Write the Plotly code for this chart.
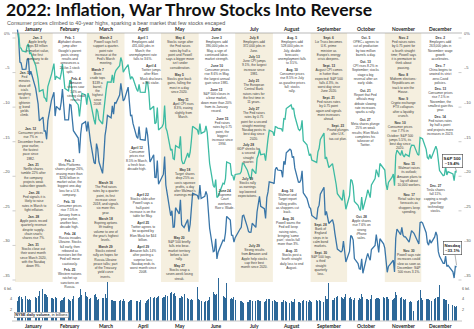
import textwrap
import pandas as pd
import plotly.graph_objects as go

W, H = 474, 329

# ---------------- data ----------------
months = ["January", "February", "March", "April", "May", "June", "July",
          "August", "September", "October", "November", "December"]
market_holidays = ["2022-01-17", "2022-02-21", "2022-04-15", "2022-05-30", "2022-06-20",
                   "2022-07-04", "2022-09-05", "2022-11-24", "2022-12-26"]

sp500_prev_close = 4766.18
nasdaq_prev_close = 15644.97

sp500_close = [
    # Jan
    4796.56, 4793.54, 4700.58, 4696.05, 4677.03, 4670.29, 4713.07, 4726.35, 4659.03, 4662.85,
    4577.11, 4532.76, 4482.73, 4397.94, 4410.13, 4356.45, 4349.93, 4326.51, 4431.85, 4515.55,
    # Feb
    4546.54, 4589.38, 4477.44, 4500.53, 4483.87, 4521.54, 4587.18, 4504.08, 4418.64, 4401.67,
    4471.07, 4475.01, 4380.26, 4348.87, 4304.76, 4225.50, 4288.70, 4384.65, 4373.94,
    # Mar
    4306.26, 4386.54, 4363.49, 4328.87, 4201.09, 4170.70, 4277.88, 4259.52, 4204.31, 4173.11,
    4262.45, 4357.86, 4411.67, 4463.12, 4461.18, 4511.61, 4456.24, 4520.16, 4543.06, 4575.52,
    4631.60, 4602.45, 4530.41,
    # Apr
    4545.86, 4582.64, 4525.12, 4481.15, 4500.21, 4488.28, 4412.53, 4397.45, 4446.59, 4392.59,
    4391.69, 4462.21, 4459.45, 4393.66, 4271.78, 4296.12, 4175.20, 4183.96, 4287.50, 4131.93,
    # May
    4155.38, 4175.48, 4300.17, 4146.87, 4123.34, 3991.24, 4001.05, 3935.18, 3930.08, 4023.89,
    4008.01, 4088.85, 3923.68, 3900.79, 3901.36, 3973.75, 3941.48, 3978.73, 4057.84, 4158.24,
    4132.15,
    # Jun
    4101.23, 4176.82, 4108.54, 4121.43, 4160.68, 4115.77, 4017.82, 3900.86, 3749.63, 3735.48,
    3789.99, 3666.77, 3674.84, 3764.79, 3759.89, 3795.73, 3911.74, 3900.11, 3821.55, 3818.83,
    3785.38,
    # Jul
    3825.33, 3831.39, 3845.08, 3902.62, 3899.38, 3854.43, 3818.80, 3801.78, 3790.38, 3863.16,
    3830.85, 3936.69, 3959.90, 3998.95, 3961.63, 3966.84, 3921.05, 4023.61, 4072.43, 4130.29,
    # Aug
    4118.63, 4091.19, 4155.17, 4151.94, 4145.19, 4140.06, 4122.47, 4210.24, 4207.27, 4280.15,
    4297.14, 4305.20, 4274.04, 4283.74, 4228.48, 4137.99, 4128.73, 4140.77, 4199.12, 4057.66,
    4030.61, 3986.16, 3955.00,
    # Sep
    3966.85, 3924.26, 3908.19, 3979.87, 4006.18, 4067.36, 4110.41, 3932.69, 3946.01, 3901.35,
    3873.33, 3899.89, 3855.93, 3789.93, 3757.99, 3693.23, 3655.04, 3647.29, 3719.04, 3640.47,
    3585.62,
    # Oct
    3678.43, 3790.93, 3783.28, 3744.52, 3639.66, 3612.39, 3588.84, 3577.03, 3669.91, 3583.07,
    3677.95, 3719.98, 3695.16, 3665.78, 3752.75, 3797.34, 3859.11, 3830.60, 3807.30, 3901.06,
    3871.98,
    # Nov
    3856.10, 3759.69, 3719.89, 3770.55, 3806.80, 3828.11, 3748.57, 3956.37, 3992.93, 3957.25,
    3991.73, 3958.79, 3946.56, 3965.34, 3949.94, 4003.58, 4027.26, 4026.12, 3963.94, 3957.63,
    4080.11,
    # Dec
    4076.57, 4071.70, 3998.84, 3941.26, 3933.92, 3963.51, 3934.38, 3990.56, 4019.65, 3995.32,
    3895.75, 3852.36, 3817.66, 3821.62, 3878.44, 3822.39, 3844.82, 3829.25, 3783.22, 3849.28,
    3839.50,
]

nasdaq_close = [
    # Jan
    15832.80, 15622.72, 15100.17, 15080.86, 14935.90, 14942.83, 15153.45, 15188.39, 14806.81, 14893.75,
    14506.90, 14340.26, 14154.02, 13768.92, 13855.13, 13539.29, 13542.12, 13352.78, 13770.57, 14239.88,
    # Feb
    14346.00, 14417.55, 13878.82, 14098.01, 14015.67, 14194.45, 14490.37, 14185.64, 13791.15, 13790.92,
    14139.76, 14124.09, 13716.72, 13548.07, 13381.52, 13037.49, 13473.59, 13694.62, 13751.40,
    # Mar
    13532.46, 13752.02, 13537.94, 13313.44, 12830.96, 12795.55, 13255.55, 13129.96, 12843.81, 12581.22,
    12948.62, 13436.55, 13614.78, 13893.84, 13838.46, 14108.82, 13922.60, 14191.84, 14169.30, 14354.90,
    14619.64, 14442.27, 14220.52,
    # Apr
    14261.50, 14532.55, 14204.17, 13888.82, 13897.30, 13711.00, 13411.96, 13371.57, 13643.59, 13351.08,
    13332.36, 13619.66, 13453.07, 13174.65, 12839.29, 13004.85, 12490.74, 12488.93, 12871.53, 12334.64,
    # May
    12536.02, 12563.76, 12964.86, 12317.69, 12144.66, 11623.25, 11737.67, 11364.24, 11370.96, 11805.00,
    11662.79, 11984.52, 11418.15, 11388.50, 11354.62, 11535.27, 11264.45, 11434.74, 11740.65, 12131.13,
    12081.39,
    # Jun
    11994.46, 12316.90, 12012.73, 12061.37, 12175.23, 12086.27, 11754.23, 11340.02, 10809.23, 10828.35,
    11099.15, 10646.10, 10798.35, 11069.30, 11053.08, 11232.19, 11607.62, 11524.55, 11181.54, 11177.89,
    11028.74,
    # Jul
    11127.85, 11322.24, 11361.85, 11621.35, 11635.31, 11372.60, 11264.73, 11247.58, 11251.19, 11452.42,
    11360.05, 11713.15, 11897.65, 12059.61, 11834.11, 11782.67, 11562.58, 12032.42, 12162.59, 12390.69,
    # Aug
    12368.98, 12348.76, 12668.16, 12720.58, 12657.55, 12644.46, 12493.93, 12854.80, 12779.91, 13047.19,
    13128.05, 13102.55, 12938.12, 12965.34, 12705.22, 12381.57, 12381.30, 12431.53, 12639.27, 12141.71,
    12017.67, 11883.14, 11816.20,
    # Sep
    11785.13, 11630.86, 11544.91, 11791.90, 11862.13, 12112.31, 12266.41, 11633.57, 11719.68, 11552.36,
    11448.40, 11535.02, 11425.05, 11220.19, 11066.81, 10867.93, 10802.92, 10829.50, 11051.64, 10737.51,
    10575.62,
    # Oct
    10815.43, 11176.41, 11148.64, 11073.31, 10652.40, 10542.10, 10426.19, 10417.10, 10649.15, 10321.39,
    10675.80, 10772.40, 10680.51, 10614.84, 10859.72, 10952.61, 11199.12, 10970.99, 10792.68, 11102.45,
    10988.15,
    # Nov
    10890.85, 10524.80, 10342.94, 10475.25, 10564.52, 10616.20, 10353.17, 11114.15, 11323.33, 11196.22,
    11358.41, 11183.66, 11144.96, 11146.06, 11024.51, 11174.41, 11285.32, 11226.36, 11049.50, 10983.78,
    11468.00,
    # Dec
    11482.45, 11461.50, 11239.94, 11014.89, 10958.55, 11082.00, 11004.62, 11143.74, 11256.81, 11170.89,
    10810.53, 10705.41, 10546.03, 10547.11, 10709.37, 10476.12, 10497.86, 10353.23, 10213.29, 10478.09,
    10466.48,
]

nyse_volume_bil = [
    # Jan
    3.6, 4.5, 4.6, 4.4, 4.1, 4.6, 4.0, 3.9, 4.0, 3.9, 4.4, 4.3, 4.6, 5.6, 6.0, 4.9, 5.0, 4.8, 4.5, 4.3,
    # Feb
    4.3, 4.0, 4.4, 4.2, 3.7, 3.8, 3.9, 4.3, 4.4, 4.0, 3.8, 3.7, 4.1, 4.6, 4.2, 4.5, 6.0, 4.8, 5.3,
    # Mar
    4.6, 4.4, 4.0, 4.3, 4.8, 4.9, 4.5, 3.9, 4.0, 4.2, 4.3, 4.9, 4.2, 7.3, 3.9, 3.8, 3.7, 3.6, 3.7, 3.6,
    3.9, 3.7, 4.0,
    # Apr
    3.6, 3.5, 3.7, 3.9, 3.8, 3.5, 3.6, 3.7, 3.4, 3.8, 3.3, 3.7, 3.8, 4.0, 4.4, 4.2, 4.4, 4.3, 4.4, 4.6,
    # May
    4.3, 4.4, 4.5, 4.8, 4.6, 5.2, 5.3, 5.0, 5.1, 4.6, 4.2, 4.3, 4.6, 4.5, 5.0, 4.2, 4.1, 3.9, 4.0, 3.8,
    6.2,
    # Jun
    4.0, 3.8, 3.6, 3.5, 3.6, 3.7, 3.8, 4.4, 5.4, 5.0, 4.8, 5.0, 8.0, 4.6, 4.5, 4.3, 7.1, 4.0, 4.2, 4.0,
    4.4,
    # Jul
    3.9, 3.7, 3.6, 3.5, 3.2, 3.4, 3.5, 3.8, 3.9, 3.7, 3.6, 3.9, 3.8, 3.7, 3.6, 3.5, 3.6, 4.0, 4.1, 4.1,
    # Aug
    3.6, 3.8, 3.7, 3.5, 3.4, 3.5, 3.4, 3.8, 3.7, 3.4, 3.3, 3.6, 3.5, 3.5, 4.1, 3.5, 3.4, 3.3, 3.6, 3.8,
    3.6, 3.5, 3.9,
    # Sep
    3.6, 3.5, 3.9, 3.7, 3.8, 3.6, 3.5, 4.6, 4.0, 4.1, 7.0, 3.9, 3.8, 4.2, 4.4, 4.6, 4.5, 4.3, 4.1, 4.4,
    4.9,
    # Oct
    4.3, 4.4, 4.0, 3.9, 4.2, 3.8, 4.2, 4.0, 4.9, 4.4, 4.1, 4.0, 3.9, 4.1, 4.7, 4.1, 4.2, 4.3, 4.2, 4.0,
    4.4,
    # Nov
    4.3, 4.4, 4.5, 4.1, 3.8, 4.0, 4.3, 5.3, 4.8, 4.2, 4.4, 4.1, 3.9, 4.1, 3.5, 3.6, 3.4, 1.8, 3.7, 3.8,
    5.8,
    # Dec
    4.3, 3.9, 4.0, 4.1, 4.0, 3.8, 3.6, 4.0, 4.2, 4.4, 4.5, 6.7, 4.1, 4.0, 3.9, 3.8, 3.1, 2.9, 2.7, 2.6,
    2.7,
]

pct_ticks = [0, -5, -10, -15, -20, -25, -30, -35]
pct_tick_text = ["0%", "–5", "–10", "–15", "–20", "–25", "–30", "–35"]
vol_ticks = [2, 4, 6]
vol_tick_text = ["2", "4", "6 bil."]

title_text = "2022: Inflation, War Throw Stocks Into Reverse"
subtitle_text = "Consumer prices climbed to 40-year highs, sparking a bear market that few stocks escaped"

# (month, top px, x offset px, wrap chars, date, text)
notes = [
    (1, 35, 4, 16, "Jan. 3", "Apple briefly tops $3 trillion in market value, the first company to do so."),
    (1, 70, -9, 8, "Jan. 5", "Fed minutes show officials weighing faster tightening; bond yields climb."),
    (1, 126, -3, 15, "Jan. 12", "Consumer prices rise 7% in December from a year earlier, the fastest pace since 1982."),
    (1, 160, 0, 18, "Jan. 21", "Netflix shares tumble 22% after the company projects weak subscriber growth."),
    (1, 188, 0, 18, "Jan. 26", "Fed signals it is likely to raise rates in March to fight inflation."),
    (1, 212, 0, 18, "Jan. 28", "Apple posts record quarterly revenue despite supply-chain snarls; shares rise 7%."),
    (1, 240, 0, 18, "Jan. 31", "Stocks close out their worst month since March 2020, with the Nasdaq down 9%."),
    (2, 35, 0, 18, "Feb. 1", "Alphabet shares jump after Google's parent posts strong results and announces a 20-for-1 stock split."),
    (2, 68, 6, 12, "Feb. 4", "Amazon shares soar 14% on strong cloud results."),
    (2, 158, 0, 18, "Feb. 3", "Meta Platforms shares plunge 26%, erasing more than $230 billion in market value, the biggest one-day loss for a U.S. company."),
    (2, 199, 0, 18, "Feb. 10", "Consumer prices rise 7.5% in January from a year earlier, another four-decade high."),
    (2, 226, 0, 18, "Feb. 24", "Russia invades Ukraine. Stocks fall early, then rebound as investors bet the Fed will move cautiously."),
    (2, 259, 0, 18, "Feb. 25", "Western nations ratchet up sanctions on Russia."),
    (3, 35, 0, 18, "March 2", "Powell says he'll support a quarter-point rate increase at the Fed's March meeting."),
    (3, 65, -8, 10, "March 7", "Brent crude tops $139 a barrel, the highest since 2008."),
    (3, 180, 0, 18, "March 16", "The Fed raises rates by a quarter point, its first increase since 2018, and signals six more this year."),
    (3, 213, 0, 18, "March 18", "Expiring options lift trading volume to one of the year's highest levels."),
    (3, 238, 0, 18, "March 29", "Stocks extend rally on hopes for Russia-Ukraine peace talks; part of the Treasury yield curve inverts."),
    (4, 35, 0, 18, "April 1", "Employers add 431,000 jobs in March; the unemployment rate falls to 3.6%."),
    (4, 63, 8, 14, "April 4", "Twitter jumps after Elon Musk discloses a 9% stake."),
    (4, 145, -6, 14, "April 12", "Consumer prices rise 8.5% in March, a fresh four-decade high."),
    (4, 192, 0, 18, "April 22", "Stocks slide after Powell says a half-point increase is on the table for May."),
    (4, 220, 0, 18, "April 25", "Twitter agrees to be acquired by Elon Musk for $44 billion."),
    (4, 244, 0, 18, "April 29", "Amazon falls 14% after posting a surprise loss; Nasdaq ends its worst month since 2008."),
    (5, 35, 0, 18, "May 4", "Stocks surge after the Fed raises rates by half a point and Powell says a bigger move isn't under consideration."),
    (5, 72, 0, 18, "May 5", "Stocks give back gains, falling the most in a day since 2020."),
    (5, 97, 4, 16, "May 11", "April CPI rises 8.3%, easing slightly from March."),
    (5, 167, 5, 16, "May 18", "Target shares drop 25% as costs squeeze profits, a day after Walmart's earnings miss."),
    (5, 235, 0, 18, "May 20", "S&P 500 briefly falls into bear-market territory before a late rally."),
    (5, 260, 0, 18, "May 27", "Stocks snap a seven-week losing streak."),
    (6, 35, 0, 18, "June 3", "Employers add 390,000 jobs in May, a sign of continued labor-market strength."),
    (6, 63, 0, 18, "June 10", "Consumer prices rise 8.6% in May, the largest annual gain since 1981."),
    (6, 87, 0, 18, "June 13", "S&P 500 closes in a bear market, down more than 20% from its January record."),
    (6, 116, 6, 14, "June 15", "Fed raises rates by 0.75 point, the biggest increase since 1994."),
    (6, 188, 8, 12, "June 24", "Supreme Court overturns Roe v. Wade."),
    (7, 35, 0, 18, "July 8", "Employers add 372,000 jobs in June."),
    (7, 50, 0, 18, "July 13", "June CPI jumps 9.1%, the largest increase since 1981."),
    (7, 70, 0, 18, "July 21", "The European Central Bank raises rates for the first time in 11 years."),
    (7, 95, 0, 18, "July 27", "The Fed raises rates by 0.75 point for a second straight meeting; Nasdaq posts its best day since 2020."),
    (7, 131, -5, 16, "July 28", "GDP shrinks for a second straight quarter."),
    (7, 176, -7, 14, "July 19", "Stocks rally as earnings top lowered expectations."),
    (7, 243, 0, 18, "July 29", "Strong results from Amazon and Apple help stocks cap their best month since 2020."),
    (8, 35, 0, 18, "Aug. 5", "Employers add 528,000 jobs in July, double forecasts; unemployment falls to 3.5%."),
    (8, 64, 0, 18, "Aug. 10", "Consumer prices rise 8.5% in July as gasoline prices fall; stocks rally."),
    (8, 188, -4, 16, "Aug. 16", "Walmart and Target report falling profits as shoppers cut back."),
    (8, 213, -3, 18, "Aug. 26", "Powell warns the Fed will keep raising rates, bringing 'some pain'; stocks fall more than 3%."),
    (8, 246, 0, 18, "Aug. 31", "Stocks post a fourth straight daily loss to end August."),
    (9, 35, 0, 18, "Sept. 6", "Liz Truss becomes U.K. prime minister as Europe's energy crisis deepens."),
    (9, 59, 0, 18, "Sept. 13", "August CPI comes in hotter than expected; S&P 500 falls 4.3%, its worst day since June 2020."),
    (9, 92, 0, 18, "Sept. 21", "Fed raises rates by 0.75 point again and signals more increases ahead."),
    (9, 117, 9, 14, "Sept. 23", "Pound plunges after U.K. tax-cut plan."),
    (9, 222, -8, 12, "Sept. 28", "Bank of England steps in to calm bond markets."),
    (9, 247, -8, 12, "Sept. 30", "S&P 500 logs a third straight quarterly loss."),
    (10, 35, 0, 18, "Oct. 5", "OPEC+ agrees to cut oil production by two million barrels a day."),
    (10, 59, 0, 18, "Oct. 13", "CPI rises 8.2% in September; stocks stage a big reversal after an early slide."),
    (10, 88, 0, 18, "Oct. 21", "Report that Fed officials may debate slowing rate increases sparks a rally."),
    (10, 117, 0, 18, "Oct. 27", "Meta shares plunge 25% on weak results; Elon Musk completes his takeover of Twitter."),
    (10, 214, -4, 12, "Oct. 28", "Apple shares rise 7.6% on strong iPhone sales."),
    (11, 35, 0, 18, "Nov. 2", "Fed raises rates by 0.75 point for a fourth straight time; Powell says it is premature to think about pausing."),
    (11, 72, 0, 18, "Nov. 8", "Midterm elections: Republicans on track to win the House."),
    (11, 96, 0, 18, "Nov. 9", "Crypto exchange FTX collapses after a liquidity crunch."),
    (11, 117, -3, 18, "Nov. 10", "Consumer prices rise 7.7% in October; S&P 500 jumps 5.5%, its best day since 2020."),
    (11, 161, 6, 16, "Nov. 15", "Walmart raises its outlook; Amazon plans to lay off about 10,000 workers."),
    (11, 192, 6, 16, "Nov. 17", "Retail sales top forecasts as shoppers keep spending."),
    (11, 248, 6, 16, "Nov. 30", "Powell says rate increases could slow as soon as December; S&P 500 rises 3.1%."),
    (12, 35, 0, 18, "Dec. 2", "Employers add 263,000 jobs in November; wage growth accelerates."),
    (12, 59, 0, 18, "Dec. 7", "China begins to unwind its strict zero-Covid policies."),
    (12, 80, 0, 18, "Dec. 13", "Consumer prices rise 7.1% in November, the smallest gain this year."),
    (12, 104, 0, 18, "Dec. 14", "Fed raises rates by half a point and projects more increases in 2023."),
    (12, 183, -4, 16, "Dec. 27", "Tesla shares fall 11%, capping a rough year for technology stocks."),
]

# ---------------- derived ----------------
dates = [d for d in pd.bdate_range("2022-01-03", "2022-12-30")
         if d.strftime("%Y-%m-%d") not in market_holidays]
assert len(dates) == len(sp500_close) == len(nasdaq_close) == len(nyse_volume_bil), (
    len(dates), len(sp500_close), len(nasdaq_close), len(nyse_volume_bil))

sp_pct = [(c / sp500_prev_close - 1) * 100 for c in sp500_close]
nq_pct = [(c / nasdaq_prev_close - 1) * 100 for c in nasdaq_close]

# ---------------- layout helpers ----------------
X0_PX, X1_PX = 15.0, 459.0
T0, T1 = pd.Timestamp("2022-01-01"), pd.Timestamp("2023-01-01")


def xp(px):
    return px / W


def yp(py):
    return 1 - py / H


def date_px(t):
    return X0_PX + (t - T0) / (T1 - T0) * (X1_PX - X0_PX)


PPP = 6.914
Y_ZERO = 38.0
y_lo, y_hi = -37.0, 1.5
vol_zero, vol_ppb = 320.5, 5.33
v_lo, v_hi = 0.0, 8.0


def py_of_pct(v):
    return Y_ZERO - v * PPP


def py_of_vol(v):
    return vol_zero - v * vol_ppb


SP_COLOR = "#3dbba3"
NQ_COLOR = "#3a76a8"
BAR_COLOR = "#2d6898"
BEIGE = "#f5efdf"
TXT = "#3a3a3a"
NOTE_FONT = "Liberation Sans"
NOTE_SIZE = 3.25
LINE_H = NOTE_SIZE * 1.3

fig = go.Figure()
fig.add_trace(go.Bar(x=dates, y=nyse_volume_bil, yaxis="y2", marker=dict(color=BAR_COLOR, line=dict(width=0)),
                     width=0.82 * 86400000, hoverinfo="skip", showlegend=False))
fig.add_trace(go.Scatter(x=dates, y=nq_pct, mode="lines", line=dict(color=NQ_COLOR, width=1.3),
                         hoverinfo="skip", showlegend=False))
fig.add_trace(go.Scatter(x=dates, y=sp_pct, mode="lines", line=dict(color=SP_COLOR, width=1.3),
                         hoverinfo="skip", showlegend=False))

shapes = []
for m in [1, 3, 5, 7, 9, 11]:
    s = pd.Timestamp(2022, m, 1)
    e = pd.Timestamp(2022, m + 1, 1)
    shapes.append(dict(type="rect", xref="x", yref="paper", x0=s, x1=e, y0=yp(282), y1=yp(33),
                       fillcolor=BEIGE, line=dict(width=0), layer="below"))
shapes.append(dict(type="line", xref="paper", yref="paper", x0=xp(12), x1=xp(462), y0=yp(33), y1=yp(33),
                   line=dict(color="#8a8a8a", width=0.6)))
shapes.append(dict(type="line", xref="paper", yref="paper", x0=xp(12), x1=xp(462), y0=yp(321), y1=yp(321),
                   line=dict(color="#8a8a8a", width=0.5)))
for v in pct_ticks:
    for a, b in [(12.5, 15.5), (458.5, 461.5)]:
        shapes.append(dict(type="line", xref="paper", yref="paper", x0=xp(a), x1=xp(b),
                           y0=yp(py_of_pct(v)), y1=yp(py_of_pct(v)), line=dict(color="#999", width=0.5)))

ann = []
ann.append(dict(text="<b>" + title_text + "</b>", x=xp(4), y=yp(10), xref="paper", yref="paper",
                xanchor="left", yanchor="middle", showarrow=False,
                font=dict(family="Lato", size=17.5, color="#111")))
ann.append(dict(text=subtitle_text, x=xp(4.5), y=yp(22.5), xref="paper", yref="paper",
                xanchor="left", yanchor="middle", showarrow=False,
                font=dict(family="Liberation Sans", size=5.4, color="#555")))

for i, mname in enumerate(months):
    s = pd.Timestamp(2022, i + 1, 1)
    e = pd.Timestamp(2022, i + 2, 1) if i < 11 else T1
    cx = (date_px(s) + date_px(e)) / 2
    for py in (29.2, 325.5):
        ann.append(dict(text="<b>" + mname + "</b>", x=xp(cx), y=yp(py), xref="paper", yref="paper",
                        xanchor="center", yanchor="middle", showarrow=False,
                        font=dict(family="Lato", size=4.9, color="#222")))

for v, t in zip(pct_ticks, pct_tick_text):
    ann.append(dict(text=t, x=xp(12), y=yp(py_of_pct(v) - 0.2), xref="paper", yref="paper", xanchor="right",
                    yanchor="bottom", showarrow=False, font=dict(family="Liberation Sans", size=4, color="#555")))
    ann.append(dict(text=t, x=xp(462), y=yp(py_of_pct(v) - 0.2), xref="paper", yref="paper", xanchor="left",
                    yanchor="bottom", showarrow=False, font=dict(family="Liberation Sans", size=4, color="#555")))
for v, t in zip(vol_ticks, vol_tick_text):
    for xx, anc in [(14, "right"), (460, "left")]:
        ann.append(dict(text=t, x=xp(xx), y=yp(py_of_vol(v)), xref="paper", yref="paper", xanchor=anc,
                        yanchor="middle", showarrow=False,
                        font=dict(family="Liberation Sans", size=3.8, color="#555")))

# stack notes within each month so blocks never collide
last_bottom = {}
for (m, top, dx, wrap, d, body) in sorted(notes, key=lambda n: (n[0], n[1])):
    s = pd.Timestamp(2022, m, 1)
    e = pd.Timestamp(2022, m + 1, 1) if m < 12 else T1
    cx = (date_px(s) + date_px(e)) / 2 + dx
    lines = textwrap.wrap(body, wrap)
    top = max(top, last_bottom.get(m, 0) + 1.5)
    last_bottom[m] = top + (len(lines) + 1) * LINE_H + 1.0
    txt = "<b>" + d + "</b><br>" + "<br>".join(lines)
    ann.append(dict(text=txt, x=xp(cx), y=yp(top), xref="paper", yref="paper", xanchor="center",
                    yanchor="top", align="center", showarrow=False, borderpad=0,
                    font=dict(family=NOTE_FONT, size=NOTE_SIZE, color=TXT)))

end_x = date_px(dates[-1])
for val, name, cy in [(sp_pct[-1], "S&P 500", 161.0), (nq_pct[-1], "Nasdaq", 248.0)]:
    ann.append(dict(text="<b>%s</b><br><b>%s%%</b>" % (name, ("–%.1f" % abs(val))),
                    x=xp(452), y=yp(cy), xref="paper", yref="paper", xanchor="center", yanchor="middle",
                    showarrow=False, bgcolor="white", bordercolor="#444", borderwidth=0.6, borderpad=1,
                    font=dict(family="Liberation Sans", size=4.3, color="#222")))
    shapes.append(dict(type="line", xref="paper", yref="paper", x0=xp(455), y0=yp(cy + 6.5),
                       x1=xp(end_x), y1=yp(py_of_pct(val) - 1.5), line=dict(color="#666", width=0.5)))

ann.append(dict(text="<b>NYSE daily volume,</b> in billions", x=xp(14), y=yp(315), xref="paper", yref="paper",
                xanchor="left", yanchor="middle", showarrow=False, bgcolor="white", borderpad=0.8,
                bordercolor="#666", borderwidth=0.4,
                font=dict(family="Liberation Sans", size=3.8, color="#222")))

fig.update_layout(
    width=W, height=H, margin=dict(l=0, r=0, t=0, b=0),
    paper_bgcolor="white", plot_bgcolor="rgba(0,0,0,0)",
    xaxis=dict(type="date", range=[T0, T1], domain=[xp(X0_PX), xp(X1_PX)], visible=False, anchor="y"),
    yaxis=dict(range=[y_lo, y_hi], domain=[yp(py_of_pct(y_lo)), yp(py_of_pct(y_hi))], visible=False,
               anchor="x"),
    yaxis2=dict(range=[v_lo, v_hi], domain=[yp(py_of_vol(v_lo)), yp(py_of_vol(v_hi))], visible=False,
                anchor="x"),
    bargap=0, shapes=shapes, annotations=ann, showlegend=False,
)

fig.write_html("out.html", config={"displayModeBar": False, "staticPlot": True})
